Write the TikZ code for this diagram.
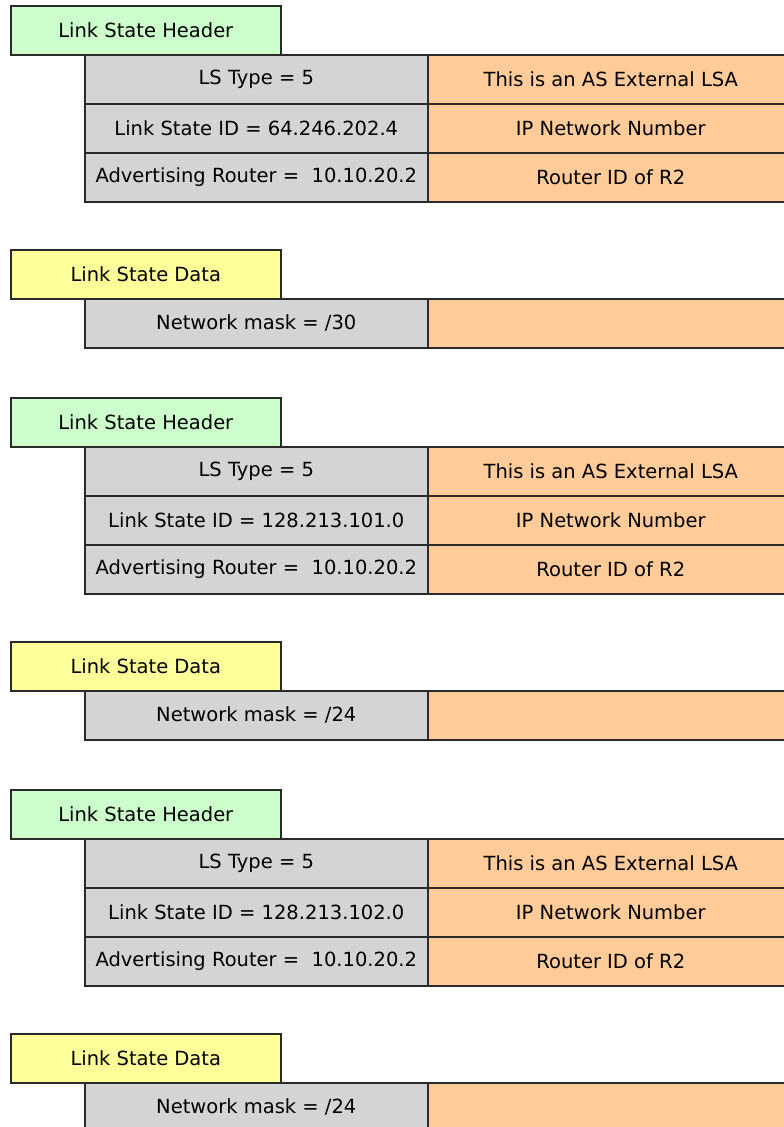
\documentclass[tikz,border=0pt]{standalone}
\usepackage{fontspec}
\setmainfont{DejaVu Sans}
\definecolor{hdrgreen}{HTML}{CCFFCC}
\definecolor{datayellow}{HTML}{FFFF99}
\definecolor{cellgray}{HTML}{D4D4D4}
\definecolor{cellorange}{HTML}{FFCC99}
\definecolor{edge}{HTML}{2A2A2A}
\begin{document}
\begin{tikzpicture}[x=1pt,y=-1pt,
  cell/.style={draw=edge, line width=1.6pt, minimum height=49pt, inner sep=0pt,
    anchor=north west, text=black, font=\fontsize{19.5}{22}\selectfont},
  hdrbox/.style={cell, fill=hdrgreen, minimum width=270pt},
  databox/.style={cell, fill=datayellow, minimum width=270pt},
  graycell/.style={cell, fill=cellgray, minimum width=343pt},
  orangecell/.style={cell, fill=cellorange, minimum width=366pt}]
\clip (0,0) rectangle (784,1127);
\fill[white] (0,0) rectangle (784,1127);
\foreach \o/\id/\m/\k in {0/64.246.202.4/30/a, 392/128.213.101.0/24/b, 784/128.213.102.0/24/c} {
  \node[hdrbox] (h\k) at (10,5+\o) {Link State Header};
  \node[graycell] (t\k) at (84,54+\o) {LS Type = 5};
  \node[orangecell] (te\k) at (427,54+\o) {This is an AS External LSA};
  \node[graycell] (i\k) at (84,103+\o) {Link State ID = \id};
  \node[orangecell] (ie\k) at (427,103+\o) {IP Network Number};
  \node[graycell] (r\k) at (84,152+\o) {Advertising Router =\ \ 10.10.20.2};
  \node[orangecell] (re\k) at (427,152+\o) {Router ID of R2};
  \node[databox] (d\k) at (10,249+\o) {Link State Data};
  \node[graycell] (m\k) at (84,298+\o) {Network mask = /\m};
  \node[orangecell] (me\k) at (427,298+\o) {};
}
\end{tikzpicture}
\end{document}
